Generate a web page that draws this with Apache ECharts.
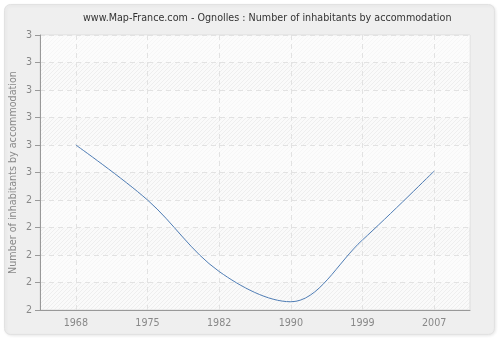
<!DOCTYPE html>
<html><head><meta charset="utf-8">
<script src="https://cdn.jsdelivr.net/npm/echarts@6/dist/echarts.min.js"></script>
<style>html,body{margin:0;padding:0;background:#fff;}#c{width:500px;height:340px;}</style>
</head><body><div id="c"></div>
<script>
var titleText = 'www.Map-France.com - Ognolles : Number of inhabitants by accommodation';
var yAxisName = 'Number of inhabitants by accommodation';
var years = ['1968', '1975', '1982', '1990', '1999', '2007'];
var values = [2.6, 2.4, 2.14, 2.03, 2.255, 2.505];
var yMin = 2, yMax = 3, yStep = 0.1;

var pc = document.createElement('canvas');
pc.width = 4; pc.height = 4;
var g = pc.getContext('2d');
g.fillStyle = '#fafafa'; g.fillRect(0, 0, 4, 4);
g.strokeStyle = '#eeeeee'; g.lineWidth = 1;
g.beginPath(); g.moveTo(0, 4); g.lineTo(4, 0); g.stroke();
g.beginPath(); g.moveTo(-1, 1); g.lineTo(1, -1); g.stroke();
g.beginPath(); g.moveTo(3, 5); g.lineTo(5, 3); g.stroke();

var chart = echarts.init(document.getElementById('c'), null, {renderer: 'canvas'});
chart.setOption({
  animation: false,
  backgroundColor: '#ffffff',
  graphic: [{
    type: 'rect', z: -10, silent: true,
    shape: {x: 4.5, y: 4.5, width: 490, height: 330, r: 6},
    style: {fill: '#efefef', stroke: '#e2e2e2', lineWidth: 1, shadowColor: 'rgba(0,0,0,0.08)', shadowBlur: 3, shadowOffsetX: 1, shadowOffsetY: 1}
  }, {
    type: 'line', z: 10, silent: true,
    shape: {x1: 35, y1: 310.5, x2: 41, y2: 310.5},
    style: {stroke: '#999', lineWidth: 1}
  }],
  title: {
    text: titleText, left: 78, top: 8,
    textStyle: {fontFamily: 'DejaVu Sans', fontSize: 9.6, fontWeight: 'normal', color: '#333'}
  },
  grid: {left: 40, right: 30, top: 35, bottom: 30, show: true, outerBoundsMode: 'none', containLabel: false,
    backgroundColor: {image: pc, repeat: 'repeat'}, borderColor: '#dddddd', borderWidth: 1},
  xAxis: {
    type: 'category', data: years, boundaryGap: true,
    axisLine: {lineStyle: {color: '#999'}},
    axisTick: {alignWithLabel: true, length: 5, lineStyle: {color: '#999'}},
    axisLabel: {color: '#888', fontFamily: 'DejaVu Sans', fontSize: 9.6, margin: 8},
    splitLine: {show: true, alignWithLabel: true, lineStyle: {color: '#e2e2e2', type: [5, 4]}}
  },
  yAxis: {
    type: 'value', min: yMin, max: yMax, interval: yStep,
    name: yAxisName, nameLocation: 'middle', nameGap: 22, nameMoveOverlap: false,
    nameTextStyle: {color: '#888', fontFamily: 'DejaVu Sans', fontSize: 9.6},
    axisLine: {show: true, lineStyle: {color: '#999'}},
    axisTick: {show: true, length: 5, lineStyle: {color: '#999'}},
    axisLabel: {color: '#888', fontFamily: 'DejaVu Sans', fontSize: 9.6, margin: 8,
      formatter: function (v) { return String(Math.round(v)); }},
    splitLine: {show: true, lineStyle: {color: '#e2e2e2', type: [5, 4]}},
    splitArea: {show: true, areaStyle: {color: ['rgba(255,255,255,0)', 'rgba(255,255,255,0.45)']}}
  },
  series: [{
    type: 'line', data: values, smooth: 0.35, showSymbol: false, symbol: 'none',
    lineStyle: {color: '#4f7db5', width: 1}
  }]
});
</script></body></html>
